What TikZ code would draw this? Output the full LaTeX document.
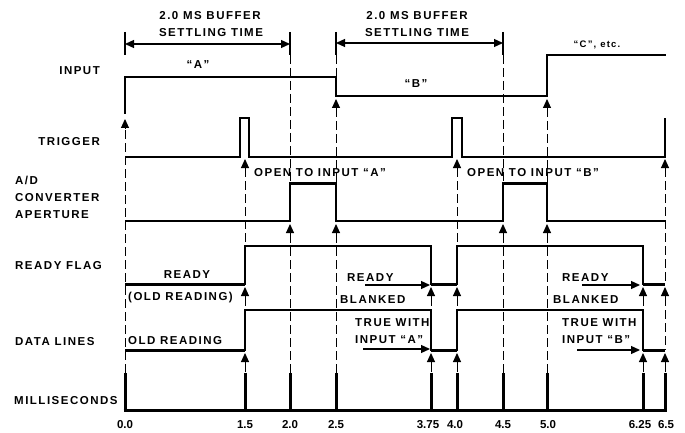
\documentclass[tikz,border=0pt]{standalone}
\usepackage{fontspec}
\usetikzlibrary{arrows.meta}
\newfontfamily\labfont{Liberation Sans}[LetterSpace=13]
\newfontfamily\numfont{Liberation Sans}
\tikzset{
  lbl/.style={font=\labfont\bfseries\fontsize{11.5}{13}\selectfont, inner sep=0pt},
  small/.style={font=\labfont\bfseries\fontsize{9.5}{10}\selectfont, inner sep=0pt},
  nums/.style={font=\numfont\bfseries\fontsize{11.5}{13}\selectfont, inner sep=0pt},
  sigline/.style={line width=1.3pt, line join=miter},
  heavy/.style={line width=3pt},
  dashv/.style={line width=1pt, dash pattern=on 9pt off 4pt},
  uparr/.style={line width=1pt, -{Triangle[width=8pt,length=9pt]}},
  rarr/.style={line width=1.2pt, -{Triangle[width=8pt,length=9pt]}},
  dimarr/.style={line width=1.2pt, {Triangle[width=8pt,length=9pt]}-{Triangle[width=8pt,length=9pt]}},
  tickbar/.style={line width=1.2pt},
}
\begin{document}
\begin{tikzpicture}[x=1pt,y=-1pt]
\useasboundingbox (0,0) rectangle (685,433);

% ---- top dimension marks ----
\foreach \x in {125,290,336,503} \draw[tickbar] (\x,32) -- (\x,55);
\coordinate (d1a) at (125,44); \coordinate (d1b) at (290,44);
\coordinate (d2a) at (336,43); \coordinate (d2b) at (503,43);
\draw[dimarr] (d1a) -- (d1b);
\draw[dimarr] (d2a) -- (d2b);
\node[lbl] (b1a) at (210,16) {2.0 MS BUFFER};
\node[lbl] (b1b) at (211,33) {SETTLING TIME};
\node[lbl] (b2a) at (417,16) {2.0 MS BUFFER};
\node[lbl] (b2b) at (417,33) {SETTLING TIME};

% ---- row labels ----
\node[lbl, anchor=east] (linput) at (100,71) {INPUT};
\node[lbl, anchor=east] (ltrig) at (100,142) {TRIGGER};
\node[lbl, anchor=west] (lad1) at (15,180) {A/D};
\node[lbl, anchor=west] (lad2) at (15,198) {CONVERTER};
\node[lbl, anchor=west] (lad3) at (15,215) {APERTURE};
\node[lbl, anchor=west] (lrdy) at (15,266) {READY FLAG};
\node[lbl, anchor=west] (ldata) at (15,342) {DATA LINES};
\node[lbl, anchor=west] (lms) at (14,401) {MILLISECONDS};

% ---- dashed time lines ----
\foreach \x/\a/\b in {125/130/373,
  245/168/246, 245/297/310, 245/363/373,
  290/55/183, 290/234/373,
  336/55/77, 336/108/183, 336/234/373,
  431/297/310, 431/363/373,
  457/168/246, 457/297/310, 457/363/373,
  503/55/183, 503/234/373,
  547/108/183, 547/234/373,
  643/297/310, 643/363/373,
  665/168/284, 665/297/350, 665/363/373}
  \draw[dashv] (\x,\a) -- (\x,\b);

% ---- INPUT ----
\draw[sigline] (125,114) -- (125,77) -- (336,77) -- (336,96) -- (547,96) -- (547,55) -- (666,55);
\node[lbl] (qa) at (198,65) {“A”};
\node[lbl] (qb) at (416,84) {“B”};
\node[small] (qc) at (597,45) {“C”, etc.};

% ---- TRIGGER ----
\draw[sigline] (125,157) -- (240,157) -- (240,118) -- (249,118) -- (249,157) -- (452,157) -- (452,118) -- (462,118) -- (462,157) -- (665,157) -- (665,118);

% ---- A/D APERTURE ----
\draw[sigline] (125,221) -- (290,221) -- (290,183) -- (336,183) -- (336,221) -- (503,221) -- (503,183) -- (547,183) -- (547,221) -- (665,221);
\draw[heavy] (290,183) -- (336,183);
\draw[heavy] (503,183) -- (547,183);
\node[lbl, anchor=west] (opa) at (254,173) {OPEN TO INPUT “A”};
\node[lbl, anchor=west] (opb) at (467,173) {OPEN TO INPUT “B”};

% ---- READY FLAG ----
\draw[sigline] (125,284) -- (245,284) -- (245,246) -- (431,246) -- (431,284) -- (457,284) -- (457,246) -- (643,246) -- (643,284) -- (665,284);
\draw[heavy] (125,284) -- (245,284);
\draw[heavy] (431,284) -- (457,284);
\draw[heavy] (643,284) -- (665,284);
\node[lbl] (rdy1) at (187,275) {READY};
\node[lbl, anchor=west] (old1) at (128,298) {(OLD READING)};
\node[lbl, anchor=west] (rdy2) at (347,278) {READY};
\node[lbl, anchor=west] (blk2) at (340,300) {BLANKED};
\node[lbl, anchor=west] (rdy3) at (562,278) {READY};
\node[lbl, anchor=west] (blk3) at (553,300) {BLANKED};
\coordinate (ra1) at (365,285); \coordinate (ra2) at (430,285);
\coordinate (rb1) at (582,285); \coordinate (rb2) at (640,285);
\draw[rarr] (ra1) -- (ra2);
\draw[rarr] (rb1) -- (rb2);

% ---- DATA LINES ----
\draw[sigline] (125,350) -- (245,350) -- (245,310) -- (431,310) -- (431,350) -- (457,350) -- (457,310) -- (643,310) -- (643,350) -- (665,350);
\draw[heavy] (125,350) -- (245,350);
\draw[heavy] (431,350) -- (457,350);
\draw[heavy] (643,350) -- (665,350);
\node[lbl, anchor=west] (old2) at (128,341) {OLD READING};
\node[lbl, anchor=west] (tw2) at (355,323) {TRUE WITH};
\node[lbl, anchor=west] (ia2) at (355,340) {INPUT “A”};
\node[lbl, anchor=west] (tw3) at (562,323) {TRUE WITH};
\node[lbl, anchor=west] (ib3) at (562,340) {INPUT “B”};
\coordinate (da1) at (363,349); \coordinate (da2) at (430,349);
\coordinate (db1) at (577,350); \coordinate (db2) at (640,350);
\draw[rarr] (da1) -- (da2);
\draw[rarr] (db1) -- (db2);

% ---- up arrows ----
\foreach \x/\t in {125/119, 336/99, 547/99,
  245/159, 457/159, 665/159,
  290/224, 336/224, 503/224, 547/224,
  245/287, 431/287, 457/287, 643/287, 665/287,
  245/353, 431/353, 457/353, 643/353, 665/353}
  \draw[uparr] (\x,\t+10) -- (\x,\t);

% ---- MILLISECONDS axis ----
\draw[heavy] (123.5,410) -- (666.5,410);
\foreach \x in {125,245,290,336,431,457,503,547,643,665}
  \draw[heavy] (\x,373) -- (\x,411.5);
\foreach \x/\s in {125/0.0, 245/1.5, 290/2.0, 336/2.5, 428/3.75, 455/4.0, 503/4.5, 548/5.0, 640/6.25, 666/6.5}
  \node[nums] (t\s) at (\x,425) {\s};
\end{tikzpicture}
\end{document}
